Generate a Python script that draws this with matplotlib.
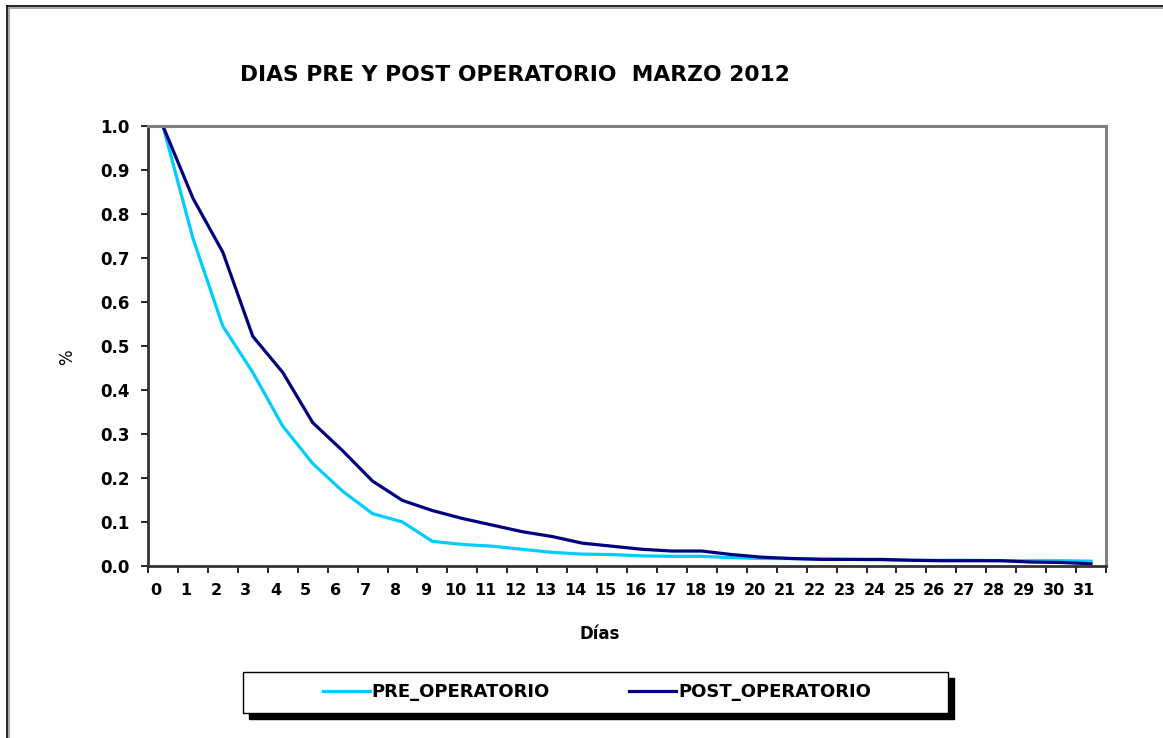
import matplotlib
matplotlib.use("Agg")
import matplotlib.pyplot as plt
from matplotlib.lines import Line2D
from matplotlib.patches import Rectangle
from matplotlib.transforms import ScaledTranslation

days = list(range(32))
day_labels = [str(d) for d in days]
pre_operatorio = [1.0, 0.745, 0.545, 0.44, 0.318, 0.233, 0.17, 0.119, 0.1, 0.056,
                  0.049, 0.045, 0.038, 0.031, 0.027, 0.026, 0.023, 0.022, 0.022, 0.019,
                  0.017, 0.017, 0.016, 0.015, 0.014, 0.013, 0.013, 0.013, 0.012, 0.012,
                  0.012, 0.011]
post_operatorio = [1.0, 0.836, 0.713, 0.522, 0.44, 0.326, 0.262, 0.193, 0.149, 0.126,
                   0.108, 0.093, 0.078, 0.067, 0.052, 0.045, 0.038, 0.034, 0.034, 0.026,
                   0.02, 0.017, 0.015, 0.015, 0.015, 0.013, 0.012, 0.012, 0.012, 0.009,
                   0.008, 0.005]

W, H = 1163, 738
fig = plt.figure(figsize=(W / 100, H / 100), dpi=100)
fig.patch.set_facecolor("white")

# outer border (open on right/bottom as in reference)
fig.add_artist(Line2D([8.5 / W, 8.5 / W], [0, 1 - 7.5 / H], transform=fig.transFigure, color="#999999", lw=1.2))
fig.add_artist(Line2D([8.5 / W, 1], [1 - 7.5 / H, 1 - 7.5 / H], transform=fig.transFigure, color="#999999", lw=1.2))
fig.add_artist(Line2D([7 / W, 7 / W], [0, 1 - 6 / H], transform=fig.transFigure, color="black", lw=1.2))
fig.add_artist(Line2D([7 / W, 1], [1 - 6 / H, 1 - 6 / H], transform=fig.transFigure, color="black", lw=1.2))

ax = fig.add_axes([148 / W, 1 - 566 / H, (1106 - 148) / W, (566 - 126) / H])
ax.plot(days, pre_operatorio, color="#00CCFF", lw=2.3, label="PRE_OPERATORIO", solid_joinstyle="round")
ax.plot(days, post_operatorio, color="#000080", lw=2.3, label="POST_OPERATORIO", solid_joinstyle="round")

ax.set_xlim(-0.5, 31.5)
ax.set_ylim(0, 1.0)
ax.set_yticks([i / 10 for i in range(11)])
ax.set_yticklabels([f"{i / 10:.1f}" for i in range(11)])
ax.set_xticks(days)
ax.set_xticklabels(day_labels)
ax.set_xticks([d - 0.5 for d in days] + [31.5], minor=True)
ax.tick_params(axis="x", which="major", length=0, pad=12)
ax.tick_params(axis="x", which="minor", length=5, width=1.2, color="black")
ax.tick_params(axis="y", length=5, width=1.2, pad=8.5)
for lab in ax.get_xticklabels():
    lab.set_fontweight("bold")
    lab.set_fontsize(11.5)
    lab.set_transform(lab.get_transform() + ScaledTranslation(-7 / 100, 0, fig.dpi_scale_trans))
for lab in ax.get_yticklabels():
    lab.set_fontweight("bold")
    lab.set_fontsize(12)

ax.spines["top"].set_color("#808080")
ax.spines["right"].set_color("#808080")
ax.spines["top"].set_linewidth(2.2)
ax.spines["right"].set_linewidth(2.2)
ax.spines["left"].set_color("#333333")
ax.spines["bottom"].set_color("#333333")
ax.spines["left"].set_linewidth(2.0)
ax.spines["bottom"].set_linewidth(2.0)

fig.text(515 / W, 1 - 75 / H, "DIAS PRE Y POST OPERATORIO  MARZO 2012", ha="center", va="center",
         fontsize=15.7, fontweight="bold")
fig.text(67 / W, 1 - 357 / H, "%", ha="center", va="center", rotation=90, fontsize=12)
fig.text(600 / W, 1 - 634 / H, "Días", ha="center", va="center", fontsize=12, fontweight="bold")

# legend frame with solid shadow
lx0, lx1, ly0, ly1 = 243, 948, 672, 713
fig.add_artist(Rectangle(((lx0 + 6) / W, 1 - (ly1 + 6) / H), (lx1 - lx0) / W, (ly1 - ly0) / H,
                         transform=fig.transFigure, facecolor="black", edgecolor="black", zorder=1))
fig.add_artist(Rectangle((lx0 / W, 1 - ly1 / H), (lx1 - lx0) / W, (ly1 - ly0) / H,
                         transform=fig.transFigure, facecolor="white", edgecolor="black", lw=1.0, zorder=2))
leg = fig.legend(loc="center", bbox_to_anchor=(597 / W, 1 - 692 / H), ncol=2, frameon=False,
                 prop={"weight": "bold", "size": 13}, handlelength=2.6, handletextpad=0.1,
                 columnspacing=4.4)
leg.set_zorder(3)

fig.savefig("out.png", dpi=100, facecolor="white")
